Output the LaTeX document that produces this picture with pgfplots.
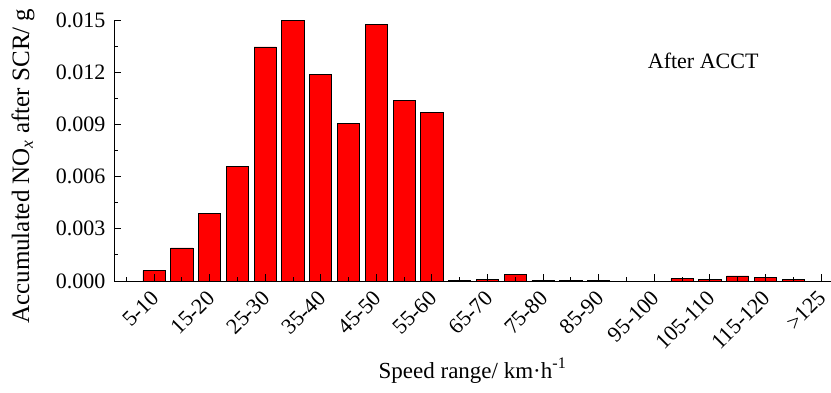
\documentclass[border=0pt]{standalone}
\usepackage{pgfplots}
\pgfplotsset{compat=1.18}
\usepackage{fontspec}
\setmainfont{Liberation Serif}
\begin{document}
\begin{tikzpicture}
\useasboundingbox (0,0) rectangle (831pt,392pt);
\begin{axis}[
  at={(114pt,111pt)}, anchor=south west,
  width=717pt, height=261pt, scale only axis,
  xmin=-0.44, xmax=25.36, ymin=0, ymax=0.015,
  axis x line=bottom, axis y line=left, axis line style={-, line width=1pt},
  axis on top,
  ybar, bar width=0.8,
  tick align=inside,
  major tick length=7pt, minor tick length=4pt,
  every tick/.style={black, line width=0.9pt},
  xtick={1,3,...,25},
  xticklabels={5-10,15-20,25-30,35-40,45-50,55-60,65-70,75-80,85-90,95-100,105-110,115-120,>125},
  minor xtick={0,2,...,24},
  ytick={0,0.003,0.006,0.009,0.012,0.015},
  minor ytick={0.0015,0.0045,0.0075,0.0105,0.0135},
  scaled y ticks=false,
  tick label style={font=\fontsize{22}{26}\selectfont},
  yticklabel style={xshift=-5pt, /pgf/number format/.cd, fixed, fixed zerofill, precision=3, assume math mode=true},
  xticklabel style={xshift=-4pt, yshift=-5pt, rotate=45, anchor=north east, inner sep=2pt},
  xlabel={Speed range/ km·h\textsuperscript{-1}},
  xlabel style={font=\fontsize{23}{27}\selectfont, at={(axis description cs:0.5,0)}, anchor=base, yshift=-97pt},
  ylabel={Accumulated NO\textsubscript{\textit{x}} after SCR/ g},
  ylabel style={font=\fontsize{25}{29}\selectfont, at={(axis description cs:-0.127,0.44)}, anchor=center},
]
\addplot[fill=red, draw=black, line width=0.8pt] coordinates {
(1,0.0006) (2,0.0019) (3,0.0039) (4,0.0066) (5,0.01345) (6,0.0150)
(7,0.01188) (8,0.00908) (9,0.01475) (10,0.0104) (11,0.00968)
(12,0.00005) (13,0.00008) (14,0.0004) (15,0.00004) (16,0.00003) (17,0.00003)
(20,0.00013) (21,0.00011) (22,0.00029) (23,0.00021) (24,0.0001)
};
\node[font=\fontsize{22}{26}\selectfont] at (axis cs:20.76,0.01264) {After ACCT};
\end{axis}
\end{tikzpicture}
\end{document}
